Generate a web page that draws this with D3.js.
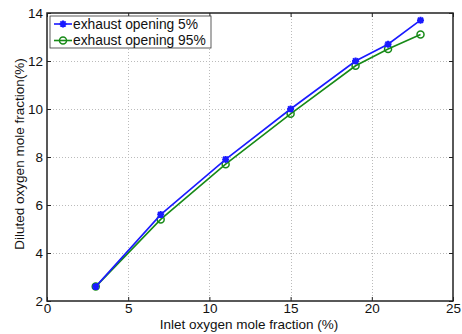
<!DOCTYPE html>
<html>
<head>
<meta charset="utf-8">
<script src="https://cdn.jsdelivr.net/npm/d3@7"></script>
<style>
  html, body { margin: 0; padding: 0; background: #fff; }
  svg { display: block; font-family: "Liberation Sans", Arial, sans-serif; }
</style>
</head>
<body>
<svg id="chart" width="462" height="334"></svg>
<script>
// data
const inletO2 = [3, 7, 11, 15, 19, 21, 23];
const diluted5 = [2.6, 5.6, 7.9, 10.0, 12.0, 12.7, 13.7];
const diluted95 = [2.6, 5.4, 7.7, 9.8, 11.8, 12.5, 13.1];
const seriesNames = ['exhaust opening 5%', 'exhaust opening 95%'];
const xTicks = [0, 5, 10, 15, 20, 25];
const yTicks = [2, 4, 6, 8, 10, 12, 14];

const svg = d3.select('#chart');
const margin = { left: 47, right: 9, top: 13, bottom: 33 };
const W = 462, H = 334;

const x = d3.scaleLinear().domain([0, 25]).range([margin.left, W - margin.right]);
const y = d3.scaleLinear().domain([2, 14]).range([H - margin.bottom, margin.top]);

// dotted grid
const grid = svg.append('g').attr('stroke', '#bbbbbb').attr('stroke-width', 1)
  .attr('stroke-dasharray', '1,2');
grid.selectAll('.gx').data(xTicks.slice(1, -1)).join('line')
  .attr('x1', d => Math.round(x(d)) + 0.5).attr('x2', d => Math.round(x(d)) + 0.5)
  .attr('y1', y(14)).attr('y2', y(2));
grid.selectAll('.gy').data(yTicks.slice(1, -1)).join('line')
  .attr('y1', d => Math.round(y(d)) + 0.5).attr('y2', d => Math.round(y(d)) + 0.5)
  .attr('x1', x(0)).attr('x2', x(25));

// axes (ticks inside, MATLAB style)
const axisStyle = g => {
  g.select('.domain').remove();
  g.selectAll('.tick line').attr('stroke', '#222');
  g.selectAll('.tick text').attr('fill', '#111').style('font-size', '13.5px');
};
svg.append('g').attr('transform', `translate(0,${y(2)})`)
  .call(d3.axisBottom(x).tickValues(xTicks).tickSizeInner(-4).tickSizeOuter(0).tickPadding(2))
  .call(axisStyle);
svg.append('g').attr('transform', `translate(0,${y(14)})`)
  .call(d3.axisTop(x).tickValues(xTicks).tickSizeInner(-4).tickSizeOuter(0).tickFormat(''))
  .call(axisStyle);
svg.append('g').attr('transform', `translate(${x(0)},0)`)
  .call(d3.axisLeft(y).tickValues(yTicks).tickSizeInner(-4).tickSizeOuter(0).tickPadding(4))
  .call(axisStyle);
svg.append('g').attr('transform', `translate(${x(25)},0)`)
  .call(d3.axisRight(y).tickValues(yTicks).tickSizeInner(-4).tickSizeOuter(0).tickFormat(''))
  .call(axisStyle);

// box
svg.append('rect')
  .attr('x', x(0)).attr('y', y(14))
  .attr('width', x(25) - x(0)).attr('height', y(2) - y(14))
  .attr('fill', 'none').attr('stroke', '#222').attr('stroke-width', 1.5);

// series
const series = [
  { name: seriesNames[0], values: diluted5, color: '#1a1aff', marker: 'star' },
  { name: seriesNames[1], values: diluted95, color: '#178a17', marker: 'circle' }
];
const line = d3.line().x(d => x(d[0])).y(d => y(d[1]));

function drawMarker(g, type, color) {
  if (type === 'star') {
    g.append('path')
      .attr('d', 'M-3.5,0H3.5M0,-3.5V3.5M-2.6,-2.6L2.6,2.6M-2.6,2.6L2.6,-2.6')
      .attr('stroke', color).attr('stroke-width', 2);
    g.append('rect').attr('x', -2).attr('y', -2).attr('width', 4).attr('height', 4).attr('fill', color);
  } else {
    g.append('circle').attr('r', 3.5).attr('fill', 'none')
      .attr('stroke', color).attr('stroke-width', 1.5);
  }
}

// draw green first so blue sits on top at the shared start
series.slice().reverse().forEach(s => {
  const pts = inletO2.map((v, i) => [v, s.values[i]]);
  svg.append('path').datum(pts)
    .attr('d', line).attr('fill', 'none')
    .attr('stroke', s.color).attr('stroke-width', 1.6);
  svg.append('g').selectAll('g').data(pts).join('g')
    .attr('transform', d => `translate(${x(d[0])},${y(d[1])})`)
    .each(function() { drawMarker(d3.select(this), s.marker, s.color); });
});

// legend
const lg = svg.append('g').attr('transform', 'translate(50,16)');
lg.append('rect').attr('width', 161).attr('height', 32)
  .attr('fill', '#fff').attr('stroke', '#333').attr('stroke-width', 0.8);
series.forEach((s, i) => {
  const row = lg.append('g').attr('transform', `translate(0,${8 + i * 16.5})`);
  row.append('line').attr('x1', 4).attr('x2', 22).attr('y1', 0).attr('y2', 0)
    .attr('stroke', s.color).attr('stroke-width', 1.6);
  drawMarker(row.append('g').attr('transform', 'translate(13,0)'), s.marker, s.color);
  row.append('text').attr('x', 23).attr('y', 0).attr('dy', '0.35em')
    .style('font-size', '13.8px').attr('fill', '#111').text(s.name);
});

// axis titles
svg.append('text')
  .attr('x', 249).attr('y', 329)
  .attr('text-anchor', 'middle').style('font-size', '13.5px').attr('fill', '#111')
  .text('Inlet oxygen mole fraction (%)');
svg.append('text')
  .attr('transform', `translate(24,154) rotate(-90)`)
  .attr('text-anchor', 'middle').style('font-size', '13.5px').attr('fill', '#111')
  .text('Diluted oxygen mole fraction(%)');
</script>
</body>
</html>
